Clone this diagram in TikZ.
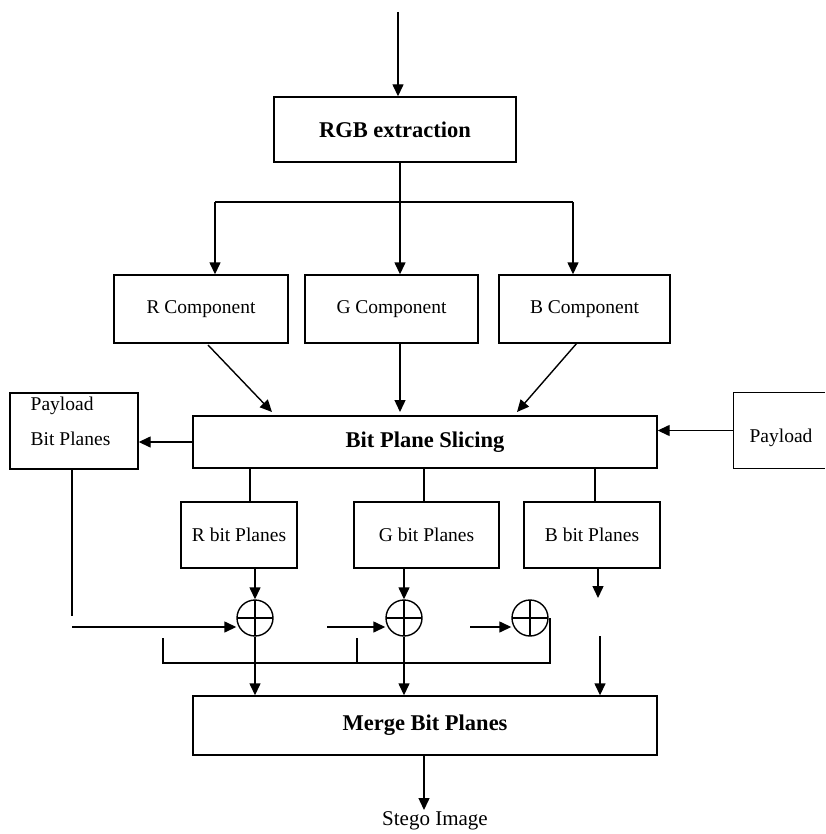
\documentclass[tikz,border=0pt]{standalone}
\usepackage{fontspec}
\setmainfont{Liberation Serif}
\usetikzlibrary{arrows.meta,calc}
\begin{document}
\begin{tikzpicture}[x=1pt,y=-1pt,
  line width=1.4pt,
  box/.style={draw, rectangle, inner sep=0pt, font=\fontsize{19.5}{23}\selectfont},
  bbox/.style={draw, rectangle, inner sep=0pt, font=\fontsize{22.5}{26}\selectfont\bfseries},
  lbl/.style={inner sep=0pt, font=\fontsize{19.5}{23}\selectfont},
  xorc/.style={draw, circle, minimum size=36pt, inner sep=0pt,
    path picture={\draw[line width=1.4pt] (path picture bounding box.north) -- (path picture bounding box.south)
      (path picture bounding box.west) -- (path picture bounding box.east);}},
  arr/.style={-{Triangle[length=12pt,width=11pt]}}]
\useasboundingbox (0,0) rectangle (825,834);

% boxes
\node[bbox, minimum width=242pt, minimum height=65pt] (rgb) at (395,129.5) {RGB extraction};
\node[box, minimum width=174pt, minimum height=68pt] (rcomp) at (201,309) {R Component};
\node[box, minimum width=173pt, minimum height=68pt] (gcomp) at (391.5,309) {G Component};
\node[box, minimum width=171pt, minimum height=68pt] (bcomp) at (584.5,309) {B Component};
\node[bbox, minimum width=464pt, minimum height=52pt] (bps) at (425,442) {Bit Plane Slicing};
\node[box, minimum width=128pt, minimum height=76pt] (pbp) at (74,431) {};
\node[lbl, anchor=west] (pbl1) at (30,406) {Payload};
\node[lbl, anchor=west] (pbl2) at (30,439) {Bit Planes};
\node[rectangle, inner sep=0pt, minimum width=90pt, minimum height=75pt] (pay) at (779,430.5) {};
\draw (pay.north east) -- (pay.north west) -- (pay.south west) -- (pay.south east);
\node[lbl] (paylbl) at (781,438) {Payload};
\node[box, minimum width=116pt, minimum height=66pt] (rbp) at (239,535) {R bit Planes};
\node[box, minimum width=145pt, minimum height=66pt] (gbp) at (426.5,535) {G bit Planes};
\node[box, minimum width=136pt, minimum height=66pt] (bbp) at (592,535) {B bit Planes};
\node[bbox, minimum width=464pt, minimum height=59pt] (merge) at (425,725.5) {Merge Bit Planes};
\node[inner sep=0pt, font=\fontsize{21}{24}\selectfont] (stego) at (435,821) {Stego Image};

% xor circles
\node[xorc] (c1) at (255,618) {};
\node[xorc] (c2) at (404,618) {};
\node[xorc] (c3) at (530,618) {};

% coordinates
\coordinate (in) at (398,12);
\coordinate (jc) at (400,202);
\coordinate (jl) at (215,202);
\coordinate (jr) at (573,202);
\coordinate (rs) at (208,345);
\coordinate (re) at (272,412);
\coordinate (ge) at (400,412);
\coordinate (bs) at (577,343);
\coordinate (be) at (517,412);
\coordinate (pv) at (72,616);
\coordinate (ph) at (72,627);
\coordinate (a2) at (327,627);
\coordinate (a3) at (470,627);
\coordinate (b1) at (163,638);
\coordinate (b2) at (163,663);
\coordinate (b3) at (357,638);
\coordinate (b4) at (357,663);
\coordinate (b5) at (550,663);
\coordinate (b6) at (550,618);
\coordinate (bx1) at (598,568);
\coordinate (bx2) at (598,598);
\coordinate (bx3) at (600,636);

% top
\draw[arr] (in) -- (in |- rgb.north);
\draw (rgb.south -| jc) -- (jc);
\draw (jl) -- (jr);
\draw[arr] (jl) -- (jl |- rcomp.north);
\draw[arr] (jc) -- (jc |- gcomp.north);
\draw[arr] (jr) -- (jr |- bcomp.north);

% to slicing
\draw[arr] (rs) -- (re);
\draw[arr] (gcomp.south -| ge) -- (ge);
\draw[arr] (bs) -- (be);
\draw[arr] (bps.west) -- (bps.west -| pbp.east);
\draw[arr] (pay.west) -- (pay.west -| bps.east);

% slicing to bit planes
\draw (bps.south -| 250,0) -- (rbp.north -| 250,0);
\draw (bps.south -| 424,0) -- (gbp.north -| 424,0);
\draw (bps.south -| 595,0) -- (bbp.north -| 595,0);

% bit planes to xor
\draw[arr] (rbp.south -| c1) -- (c1.north);
\draw[arr] (gbp.south -| c2) -- (c2.north);
\draw[arr] (bx1) -- (bx2);

% payload bit planes
\draw (pbp.south -| pv) -- (pv);
\draw[arr] (ph) -- (ph -| c1.west);
\draw[arr] (a2) -- (a2 -| c2.west);
\draw[arr] (a3) -- (a3 -| c3.west);

% bracket
\draw (b1) -- (b2) -- (b5) -- (b6);
\draw (b3) -- (b4);

% to merge
\draw[arr] (c1.south) -- (c1 |- merge.north);
\draw[arr] (c2.south) -- (c2 |- merge.north);
\draw[arr] (bx3) -- (bx3 |- merge.north);
\draw[arr] (merge.south -| 424,0) -- (424,810);
\end{tikzpicture}
\end{document}
